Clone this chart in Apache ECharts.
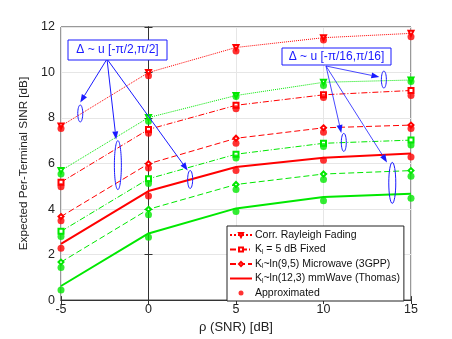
<!DOCTYPE html>
<html>
<head>
<meta charset="utf-8">
<script src="https://cdn.jsdelivr.net/npm/echarts@6/dist/echarts.min.js"></script>
<style>
  html, body { margin: 0; padding: 0; background: #fff; }
  #main { width: 452px; height: 339px; }
</style>
</head>
<body>
<div id="main"></div>
<script>
// x positions (SNR, dB)
var snr = [-5, 0, 5, 10, 15];
var xTicks = [-5, 0, 5, 10, 15];
var yTicks = [0, 2, 4, 6, 8, 10, 12];

// red curves: Delta ~ u[-pi/2, pi/2]
var rayRed    = [7.65, 10.0, 11.1, 11.53, 11.72];
var rayRedApx = [7.54, 9.86, 10.95, 11.43, 11.57];
var fixRed    = [5.18, 7.5, 8.56, 9.02, 9.21];
var fixRedApx = [4.98, 7.33, 8.41, 8.9, 8.99];
var micRed    = [3.67, 5.99, 7.11, 7.57, 7.69];
var micRedApx = [3.49, 5.8, 6.89, 7.37, 7.54];
var mmRed     = [2.47, 4.79, 5.85, 6.25, 6.44];
var mmRedApx  = [2.28, 4.57, 5.69, 6.14, 6.29];

// green curves: Delta ~ u[-pi/16, pi/16]
var rayGrn    = [5.69, 8.02, 8.99, 9.57, 9.67];
var rayGrnApx = [5.54, 7.86, 8.95, 9.43, 9.6];
var fixGrn    = [3.02, 5.33, 6.41, 6.89, 7.03];
var fixGrnApx = [2.79, 5.12, 6.24, 6.75, 6.82];
var micGrn    = [1.67, 3.99, 5.08, 5.54, 5.69];
var micGrnApx = [1.43, 3.75, 4.86, 5.3, 5.44];
var mmGrn     = [0.62, 2.93, 4.03, 4.53, 4.67];
var mmGrnApx  = [0.44, 2.76, 3.89, 4.36, 4.47];

var legendNames = [
  'Corr. Rayleigh Fading',
  'K{sub|l} = 5 dB Fixed',
  'K{sub|l}~ln(9,5) Microwave (3GPP)',
  'K{sub|l}~ln(12,3) mmWave (Thomas)',
  'Approximated'
];

var RED = '#ff0000', GRN = '#00e800', BLUE = '#1a1aff';
var font = '"Liberation Sans", Arial, sans-serif';

function pts(ys) {
  return snr.map(function (x, i) { return [x, ys[i]]; });
}

function curve(name, ys, color, dash, symbol, width) {
  return {
    name: name, type: 'line', data: pts(ys), z: 3,
    symbol: symbol || 'none', symbolSize: 5,
    symbolRotate: symbol === 'emptyTriangle' ? 180 : 0,
    showSymbol: !!symbol,
    lineStyle: { color: color, width: width || 1, type: dash },
    itemStyle: { color: color, borderColor: color, borderWidth: 1 },
    emphasis: { disabled: true }, silent: true
  };
}

function approx(name, ys, color) {
  return {
    name: name, type: 'scatter', data: pts(ys), z: 4,
    symbol: 'circle', symbolSize: 7,
    itemStyle: { color: color },
    silent: true
  };
}

var dashDot = [6, 2, 1, 2];
var dashed = [6, 3];

var series = [
  curve(legendNames[0], rayRed, RED, 'dotted', 'emptyTriangle'),
  curve(legendNames[1], fixRed, RED, dashDot, 'emptyRect'),
  curve(legendNames[2], micRed, RED, dashed, 'emptyDiamond'),
  curve(legendNames[3], mmRed, RED, 'solid', null, 2),
  curve('g0', rayGrn, GRN, 'dotted', 'emptyTriangle'),
  curve('g1', fixGrn, GRN, dashDot, 'emptyRect'),
  curve('g2', micGrn, GRN, dashed, 'emptyDiamond'),
  curve('g3', mmGrn, GRN, 'solid', null, 2),
  approx(legendNames[4], rayRedApx, RED),
  approx('a1', fixRedApx, RED),
  approx('a2', micRedApx, RED),
  approx('a3', mmRedApx, RED),
  approx('a4', rayGrnApx, GRN),
  approx('a5', fixGrnApx, GRN),
  approx('a6', micGrnApx, GRN),
  approx('a7', mmGrnApx, GRN)
];

var axisCommon = {
  type: 'value',
  axisLine: { show: true, lineStyle: { color: '#333', width: 1 } },
  axisTick: { show: true, inside: true, length: 4, lineStyle: { color: '#333' } },
  axisLabel: { color: '#222', fontFamily: font, fontSize: 12.5 },
  splitLine: { show: true, lineStyle: { color: '#e6e6e6', width: 1 } }
};

var legendData = legendNames.map(function (n, i) {
  // solid mmWave line has no marker in the key
  return i === 3 ? { name: n, itemStyle: { color: 'rgba(0,0,0,0)', borderColor: 'rgba(0,0,0,0)' } } : { name: n };
});

var chart = echarts.init(document.getElementById('main'));
var option = {
  animation: false,
  backgroundColor: '#fff',
  grid: { left: 61, right: 41, top: 27, bottom: 35, show: true,
          borderColor: '#333', borderWidth: 1 },
  xAxis: [
    Object.assign({}, axisCommon, {
      min: xTicks[0], max: xTicks[xTicks.length - 1], interval: 5,
      name: 'ρ (SNR) [dB]', nameLocation: 'middle', nameGap: 20,
      nameTextStyle: { color: '#222', fontFamily: font, fontSize: 13 },
      axisLabel: { color: '#222', fontFamily: font, fontSize: 12.5, margin: 3 }
    }),
    Object.assign({}, axisCommon, {
      position: 'top', min: xTicks[0], max: xTicks[xTicks.length - 1], interval: 5,
      axisLabel: { show: false }, splitLine: { show: false }
    })
  ],
  yAxis: [
    Object.assign({}, axisCommon, {
      min: yTicks[0], max: yTicks[yTicks.length - 1], interval: 2,
      name: 'Expected Per-Terminal SINR [dB]', nameLocation: 'middle', nameGap: 22,
      nameTextStyle: { color: '#222', fontFamily: font, fontSize: 11.7 },
      axisLabel: { color: '#222', fontFamily: font, fontSize: 12.5, margin: 6 }
    }),
    Object.assign({}, axisCommon, {
      position: 'right', min: yTicks[0], max: yTicks[yTicks.length - 1], interval: 2,
      axisLabel: { show: false }, splitLine: { show: false }
    })
  ],
  legend: {
    data: legendData,
    orient: 'vertical', left: 227, top: 226,
    padding: [3, 4, 2, 2], itemGap: 2.5,
    itemWidth: 22, itemHeight: 5,
    itemStyle: { borderWidth: 1 },
    backgroundColor: '#fff', borderColor: '#222', borderWidth: 1, borderRadius: 0,
    textStyle: {
      color: '#111', fontFamily: font, fontSize: 10.5, lineHeight: 12, padding: [0, 0, 0, -2],
      rich: { sub: { fontSize: 6.5, verticalAlign: 'bottom', padding: [6, 0, 0, 0], fontFamily: font, color: '#111' } }
    },
    selectedMode: false
  },
  series: series
};
chart.setOption(option);

// annotation: ellipses in data coordinates [x, y, rxPx, ryPx]
var ellipsesA = [[-3.9, 8.2, 2.5, 8.5], [-1.75, 5.93, 3.5, 24.5], [2.38, 5.3, 2.5, 9]];
var ellipsesB = [[13.45, 9.69, 2.5, 8.5], [11.16, 6.93, 2.5, 9], [13.93, 5.15, 3.5, 20.5]];
var boxA = { x: 68, y: 40, w: 99, h: 20, text: 'Δ ~ u [-π/2,π/2]', ox: 107, oy: 59 };
var boxB = { x: 282, y: 48, w: 109, h: 17, text: 'Δ ~ u [-π/16,π/16]', ox: 326, oy: 66 };

function arrow(x1, y1, x2, y2, w) {
  var dx = x2 - x1, dy = y2 - y1, L = Math.sqrt(dx * dx + dy * dy);
  var ux = dx / L, uy = dy / L, hl = 8, hw = 3;
  var bx = x2 - ux * hl, by = y2 - uy * hl;
  return [
    { type: 'line', shape: { x1: x1, y1: y1, x2: bx, y2: by }, style: { stroke: BLUE, lineWidth: w }, z: 10 },
    { type: 'polygon', shape: { points: [[x2, y2], [bx - uy * hw, by + ux * hw], [bx + uy * hw, by - ux * hw]] },
      style: { fill: BLUE }, z: 10 }
  ];
}

var g = [];
function addGroup(box, ells, lw, ends) {
  ells.forEach(function (e, i) {
    var p = chart.convertToPixel({ gridIndex: 0 }, [e[0], e[1]]);
    g.push({ type: 'ellipse', shape: { cx: p[0], cy: p[1], rx: e[2], ry: e[3] },
             style: { stroke: BLUE, fill: null, lineWidth: 1 }, z: 10 });
    var ex = p[0] + ends[i][0] * e[2], ey = p[1] + ends[i][1] * e[3];
    g = g.concat(arrow(box.ox, box.oy, ex, ey, lw));
  });
  g.push({ type: 'rect', shape: { x: box.x, y: box.y, width: box.w, height: box.h },
           style: { fill: '#fff', stroke: BLUE, lineWidth: 1 }, z: 11 });
  g.push({ type: 'text', x: box.x + box.w / 2, y: box.y + box.h / 2, z: 12,
           style: { text: box.text, fill: BLUE, font: '12px ' + font, align: 'center', verticalAlign: 'middle' } });
}
addGroup(boxA, ellipsesA, 1, [[0, -1.3], [-0.5, -1.05], [-1, -1]]);
addGroup(boxB, ellipsesB, 0.8, [[-1.8, -0.3], [-1, -1.05], [-1.5, -1]]);

chart.setOption({ graphic: { elements: g } });
</script>
</body>
</html>
